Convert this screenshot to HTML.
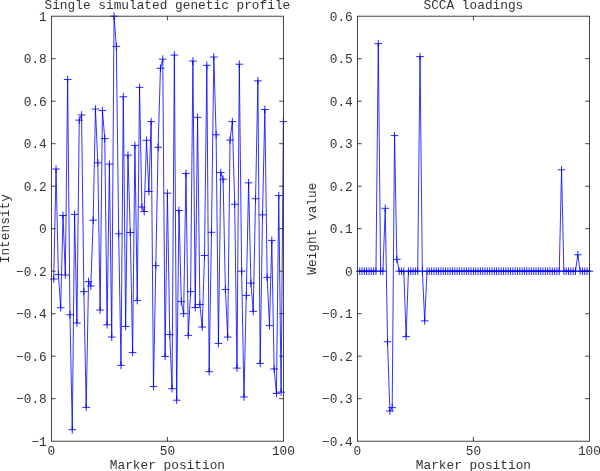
<!DOCTYPE html>
<html><head><meta charset="utf-8"><title>SCCA plots</title>
<style>
html,body{margin:0;padding:0;background:#fff;}
svg{display:block;}
svg text{font-family:"Liberation Mono","DejaVu Sans Mono",monospace;font-size:12.8px;fill:#333;}
</style></head><body>
<svg width="600" height="471" viewBox="0 0 600 471">
<rect width="600" height="471" fill="#fff"/>
<polyline points="53.72,279.06 56.04,168.99 58.36,274.60 60.68,307.75 63.00,215.52 65.32,275.02 67.64,79.52 69.96,314.76 72.28,429.72 74.60,214.46 76.92,323.05 79.24,120.11 81.56,115.01 83.88,291.60 86.20,407.41 88.52,281.61 90.84,286.07 93.16,220.20 95.48,109.06 97.80,162.82 100.12,310.09 102.44,110.55 104.76,138.60 107.08,324.75 109.40,164.10 111.72,337.07 114.04,16.20 116.36,46.37 118.68,233.80 121.00,365.34 123.32,96.74 125.64,326.45 127.96,155.17 130.28,232.53 132.60,352.59 134.92,145.40 137.24,300.52 139.56,87.39 141.88,207.02 144.20,211.49 146.52,140.30 148.84,191.51 151.16,121.60 153.48,386.59 155.80,265.67 158.12,147.31 160.44,68.26 162.76,59.12 165.08,356.41 167.40,193.21 169.72,334.52 172.04,388.71 174.36,55.09 176.68,400.19 179.00,210.42 181.32,301.59 183.64,313.70 185.96,173.45 188.28,335.38 190.60,291.60 192.92,61.04 195.24,307.54 197.56,117.35 199.88,304.56 202.20,327.09 204.52,255.47 206.84,65.29 209.16,371.71 211.48,232.31 213.80,57.00 216.12,134.77 218.44,343.45 220.76,172.60 223.08,179.19 225.40,289.48 227.72,337.07 230.04,140.09 232.36,121.60 234.68,204.26 237.00,368.10 239.32,64.22 241.64,271.20 243.96,397.00 246.28,295.43 248.60,182.80 250.92,283.10 253.24,311.36 255.56,198.74 257.88,80.80 260.20,363.43 262.52,214.89 264.84,109.49 267.16,277.36 269.48,325.60 271.80,240.39 274.12,368.95 276.44,393.39 278.76,195.55 281.08,392.11 283.40,121.60" fill="none" stroke="#0000ff" stroke-width="0.8" stroke-linejoin="round"/>
<path d="M49.92 279.06H57.52M53.72 275.26V282.86M52.24 168.99H59.84M56.04 165.19V172.79M54.56 274.60H62.16M58.36 270.80V278.40M56.88 307.75H64.48M60.68 303.95V311.55M59.20 215.52H66.80M63.00 211.72V219.32M61.52 275.02H69.12M65.32 271.22V278.82M63.84 79.52H71.44M67.64 75.72V83.32M66.16 314.76H73.76M69.96 310.96V318.56M68.48 429.72H76.08M72.28 425.92V433.52M70.80 214.46H78.40M74.60 210.66V218.26M73.12 323.05H80.72M76.92 319.25V326.85M75.44 120.11H83.04M79.24 116.31V123.91M77.76 115.01H85.36M81.56 111.21V118.81M80.08 291.60H87.68M83.88 287.80V295.40M82.40 407.41H90.00M86.20 403.61V411.21M84.72 281.61H92.32M88.52 277.81V285.41M87.04 286.07H94.64M90.84 282.27V289.88M89.36 220.20H96.96M93.16 216.40V224.00M91.68 109.06H99.28M95.48 105.26V112.86M94.00 162.82H101.60M97.80 159.02V166.62M96.32 310.09H103.92M100.12 306.29V313.89M98.64 110.55H106.24M102.44 106.75V114.35M100.96 138.60H108.56M104.76 134.80V142.40M103.28 324.75H110.88M107.08 320.95V328.55M105.60 164.10H113.20M109.40 160.30V167.90M107.92 337.07H115.52M111.72 333.27V340.88M110.24 16.20H117.84M114.04 12.40V20.00M112.56 46.37H120.16M116.36 42.57V50.17M114.88 233.80H122.48M118.68 230.00V237.60M117.20 365.34H124.80M121.00 361.54V369.14M119.52 96.74H127.12M123.32 92.94V100.54M121.84 326.45H129.44M125.64 322.65V330.25M124.16 155.17H131.76M127.96 151.37V158.97M126.48 232.53H134.08M130.28 228.72V236.33M128.80 352.59H136.40M132.60 348.79V356.39M131.12 145.40H138.72M134.92 141.60V149.20M133.44 300.52H141.04M137.24 296.72V304.32M135.76 87.39H143.36M139.56 83.59V91.19M138.08 207.02H145.68M141.88 203.22V210.82M140.40 211.49H148.00M144.20 207.69V215.29M142.72 140.30H150.32M146.52 136.50V144.10M145.04 191.51H152.64M148.84 187.71V195.31M147.36 121.60H154.96M151.16 117.80V125.40M149.68 386.59H157.28M153.48 382.79V390.39M152.00 265.67H159.60M155.80 261.87V269.47M154.32 147.31H161.92M158.12 143.51V151.11M156.64 68.26H164.24M160.44 64.46V72.06M158.96 59.12H166.56M162.76 55.33V62.92M161.28 356.41H168.88M165.08 352.61V360.21M163.60 193.21H171.20M167.40 189.41V197.01M165.92 334.52H173.52M169.72 330.72V338.32M168.24 388.71H175.84M172.04 384.91V392.51M170.56 55.09H178.16M174.36 51.29V58.89M172.88 400.19H180.48M176.68 396.39V403.99M175.20 210.42H182.80M179.00 206.62V214.22M177.52 301.59H185.12M181.32 297.79V305.39M179.84 313.70H187.44M183.64 309.90V317.50M182.16 173.45H189.76M185.96 169.65V177.25M184.48 335.38H192.08M188.28 331.57V339.18M186.80 291.60H194.40M190.60 287.80V295.40M189.12 61.04H196.72M192.92 57.24V64.84M191.44 307.54H199.04M195.24 303.74V311.34M193.76 117.35H201.36M197.56 113.55V121.15M196.08 304.56H203.68M199.88 300.76V308.36M198.40 327.09H206.00M202.20 323.29V330.89M200.72 255.47H208.32M204.52 251.67V259.27M203.04 65.29H210.64M206.84 61.49V69.09M205.36 371.71H212.96M209.16 367.91V375.51M207.68 232.31H215.28M211.48 228.51V236.11M210.00 57.00H217.60M213.80 53.20V60.80M212.32 134.77H219.92M216.12 130.97V138.57M214.64 343.45H222.24M218.44 339.65V347.25M216.96 172.60H224.56M220.76 168.80V176.40M219.28 179.19H226.88M223.08 175.39V182.99M221.60 289.48H229.20M225.40 285.68V293.28M223.92 337.07H231.52M227.72 333.27V340.88M226.24 140.09H233.84M230.04 136.29V143.89M228.56 121.60H236.16M232.36 117.80V125.40M230.88 204.26H238.48M234.68 200.46V208.06M233.20 368.10H240.80M237.00 364.30V371.90M235.52 64.22H243.12M239.32 60.42V68.02M237.84 271.20H245.44M241.64 267.40V275.00M240.16 397.00H247.76M243.96 393.20V400.80M242.48 295.43H250.08M246.28 291.62V299.23M244.80 182.80H252.40M248.60 179.00V186.60M247.12 283.10H254.72M250.92 279.30V286.90M249.44 311.36H257.04M253.24 307.56V315.16M251.76 198.74H259.36M255.56 194.94V202.54M254.08 80.80H261.68M257.88 77.00V84.60M256.40 363.43H264.00M260.20 359.62V367.23M258.72 214.89H266.32M262.52 211.09V218.69M261.04 109.49H268.64M264.84 105.69V113.29M263.36 277.36H270.96M267.16 273.56V281.16M265.68 325.60H273.28M269.48 321.80V329.40M268.00 240.39H275.60M271.80 236.59V244.19M270.32 368.95H277.92M274.12 365.15V372.75M272.64 393.39H280.24M276.44 389.59V397.19M274.96 195.55H282.56M278.76 191.75V199.35M277.28 392.11H284.88M281.08 388.31V395.91M279.60 121.60H287.20M283.40 117.80V125.40" fill="none" stroke="#0000ff" stroke-width="0.85"/>
<rect x="51.40" y="16.20" width="232.00" height="425.00" fill="none" stroke="#222" stroke-width="0.85"/>
<text x="51.40" y="455.40" text-anchor="middle">0</text>
<text x="167.40" y="455.40" text-anchor="middle">50</text>
<text x="283.40" y="455.40" text-anchor="middle">100</text>
<text x="46.80" y="445.70" text-anchor="end">−1</text>
<text x="46.80" y="403.20" text-anchor="end">−0.8</text>
<text x="46.80" y="360.70" text-anchor="end">−0.6</text>
<text x="46.80" y="318.20" text-anchor="end">−0.4</text>
<text x="46.80" y="275.70" text-anchor="end">−0.2</text>
<text x="46.80" y="233.20" text-anchor="end">0</text>
<text x="46.80" y="190.70" text-anchor="end">0.2</text>
<text x="46.80" y="148.20" text-anchor="end">0.4</text>
<text x="46.80" y="105.70" text-anchor="end">0.6</text>
<text x="46.80" y="63.20" text-anchor="end">0.8</text>
<text x="46.80" y="20.70" text-anchor="end">1</text>
<path d="M167.40 441.20V436.95M167.40 16.20V20.45M51.40 398.70H55.65M283.40 398.70H279.15M51.40 356.20H55.65M283.40 356.20H279.15M51.40 313.70H55.65M283.40 313.70H279.15M51.40 271.20H55.65M283.40 271.20H279.15M51.40 228.70H55.65M283.40 228.70H279.15M51.40 186.20H55.65M283.40 186.20H279.15M51.40 143.70H55.65M283.40 143.70H279.15M51.40 101.20H55.65M283.40 101.20H279.15M51.40 58.70H55.65M283.40 58.70H279.15" fill="none" stroke="#222" stroke-width="0.85"/>
<text x="167.40" y="8.50" text-anchor="middle">Single simulated genetic profile</text>
<text x="167.40" y="468.50" text-anchor="middle">Marker position</text>
<text transform="translate(9.20 228.70) rotate(-90)" text-anchor="middle">Intensity</text>
<polyline points="359.72,271.20 362.04,271.20 364.36,271.20 366.68,271.20 369.00,271.20 371.32,271.20 373.64,271.20 375.96,271.20 378.28,43.61 380.60,271.20 382.92,271.20 385.24,208.30 387.56,341.75 389.88,411.02 392.20,407.62 394.52,135.62 396.84,259.30 399.16,271.20 401.48,271.20 403.80,271.20 406.12,336.65 408.44,271.20 410.76,271.20 413.08,271.20 415.40,271.20 417.72,271.20 420.04,56.57 422.36,271.20 424.68,320.92 427.00,271.20 429.32,271.20 431.64,271.20 433.96,271.20 436.28,271.20 438.60,271.20 440.92,271.20 443.24,271.20 445.56,271.20 447.88,271.20 450.20,271.20 452.52,271.20 454.84,271.20 457.16,271.20 459.48,271.20 461.80,271.20 464.12,271.20 466.44,271.20 468.76,271.20 471.08,271.20 473.40,271.20 475.72,271.20 478.04,271.20 480.36,271.20 482.68,271.20 485.00,271.20 487.32,271.20 489.64,271.20 491.96,271.20 494.28,271.20 496.60,271.20 498.92,271.20 501.24,271.20 503.56,271.20 505.88,271.20 508.20,271.20 510.52,271.20 512.84,271.20 515.16,271.20 517.48,271.20 519.80,271.20 522.12,271.20 524.44,271.20 526.76,271.20 529.08,271.20 531.40,271.20 533.72,271.20 536.04,271.20 538.36,271.20 540.68,271.20 543.00,271.20 545.32,271.20 547.64,271.20 549.96,271.20 552.28,271.20 554.60,271.20 556.92,271.20 559.24,271.20 561.56,169.79 563.88,271.20 566.20,271.20 568.52,271.20 570.84,271.20 573.16,271.20 575.48,271.20 577.80,254.79 580.12,271.20 582.44,271.20 584.76,271.20 587.08,271.20 589.40,271.20" fill="none" stroke="#0000ff" stroke-width="0.8" stroke-linejoin="round"/>
<path d="M355.92 271.20H363.52M359.72 267.40V275.00M358.24 271.20H365.84M362.04 267.40V275.00M360.56 271.20H368.16M364.36 267.40V275.00M362.88 271.20H370.48M366.68 267.40V275.00M365.20 271.20H372.80M369.00 267.40V275.00M367.52 271.20H375.12M371.32 267.40V275.00M369.84 271.20H377.44M373.64 267.40V275.00M372.16 271.20H379.76M375.96 267.40V275.00M374.48 43.61H382.08M378.28 39.81V47.41M376.80 271.20H384.40M380.60 267.40V275.00M379.12 271.20H386.72M382.92 267.40V275.00M381.44 208.30H389.04M385.24 204.50V212.10M383.76 341.75H391.36M387.56 337.95V345.55M386.08 411.02H393.68M389.88 407.22V414.82M388.40 407.62H396.00M392.20 403.82V411.43M390.72 135.62H398.32M394.52 131.82V139.42M393.04 259.30H400.64M396.84 255.50V263.10M395.36 271.20H402.96M399.16 267.40V275.00M397.68 271.20H405.28M401.48 267.40V275.00M400.00 271.20H407.60M403.80 267.40V275.00M402.32 336.65H409.92M406.12 332.85V340.45M404.64 271.20H412.24M408.44 267.40V275.00M406.96 271.20H414.56M410.76 267.40V275.00M409.28 271.20H416.88M413.08 267.40V275.00M411.60 271.20H419.20M415.40 267.40V275.00M413.92 271.20H421.52M417.72 267.40V275.00M416.24 56.57H423.84M420.04 52.77V60.37M418.56 271.20H426.16M422.36 267.40V275.00M420.88 320.92H428.48M424.68 317.12V324.72M423.20 271.20H430.80M427.00 267.40V275.00M425.52 271.20H433.12M429.32 267.40V275.00M427.84 271.20H435.44M431.64 267.40V275.00M430.16 271.20H437.76M433.96 267.40V275.00M432.48 271.20H440.08M436.28 267.40V275.00M434.80 271.20H442.40M438.60 267.40V275.00M437.12 271.20H444.72M440.92 267.40V275.00M439.44 271.20H447.04M443.24 267.40V275.00M441.76 271.20H449.36M445.56 267.40V275.00M444.08 271.20H451.68M447.88 267.40V275.00M446.40 271.20H454.00M450.20 267.40V275.00M448.72 271.20H456.32M452.52 267.40V275.00M451.04 271.20H458.64M454.84 267.40V275.00M453.36 271.20H460.96M457.16 267.40V275.00M455.68 271.20H463.28M459.48 267.40V275.00M458.00 271.20H465.60M461.80 267.40V275.00M460.32 271.20H467.92M464.12 267.40V275.00M462.64 271.20H470.24M466.44 267.40V275.00M464.96 271.20H472.56M468.76 267.40V275.00M467.28 271.20H474.88M471.08 267.40V275.00M469.60 271.20H477.20M473.40 267.40V275.00M471.92 271.20H479.52M475.72 267.40V275.00M474.24 271.20H481.84M478.04 267.40V275.00M476.56 271.20H484.16M480.36 267.40V275.00M478.88 271.20H486.48M482.68 267.40V275.00M481.20 271.20H488.80M485.00 267.40V275.00M483.52 271.20H491.12M487.32 267.40V275.00M485.84 271.20H493.44M489.64 267.40V275.00M488.16 271.20H495.76M491.96 267.40V275.00M490.48 271.20H498.08M494.28 267.40V275.00M492.80 271.20H500.40M496.60 267.40V275.00M495.12 271.20H502.72M498.92 267.40V275.00M497.44 271.20H505.04M501.24 267.40V275.00M499.76 271.20H507.36M503.56 267.40V275.00M502.08 271.20H509.68M505.88 267.40V275.00M504.40 271.20H512.00M508.20 267.40V275.00M506.72 271.20H514.32M510.52 267.40V275.00M509.04 271.20H516.64M512.84 267.40V275.00M511.36 271.20H518.96M515.16 267.40V275.00M513.68 271.20H521.28M517.48 267.40V275.00M516.00 271.20H523.60M519.80 267.40V275.00M518.32 271.20H525.92M522.12 267.40V275.00M520.64 271.20H528.24M524.44 267.40V275.00M522.96 271.20H530.56M526.76 267.40V275.00M525.28 271.20H532.88M529.08 267.40V275.00M527.60 271.20H535.20M531.40 267.40V275.00M529.92 271.20H537.52M533.72 267.40V275.00M532.24 271.20H539.84M536.04 267.40V275.00M534.56 271.20H542.16M538.36 267.40V275.00M536.88 271.20H544.48M540.68 267.40V275.00M539.20 271.20H546.80M543.00 267.40V275.00M541.52 271.20H549.12M545.32 267.40V275.00M543.84 271.20H551.44M547.64 267.40V275.00M546.16 271.20H553.76M549.96 267.40V275.00M548.48 271.20H556.08M552.28 267.40V275.00M550.80 271.20H558.40M554.60 267.40V275.00M553.12 271.20H560.72M556.92 267.40V275.00M555.44 271.20H563.04M559.24 267.40V275.00M557.76 169.79H565.36M561.56 165.99V173.59M560.08 271.20H567.68M563.88 267.40V275.00M562.40 271.20H570.00M566.20 267.40V275.00M564.72 271.20H572.32M568.52 267.40V275.00M567.04 271.20H574.64M570.84 267.40V275.00M569.36 271.20H576.96M573.16 267.40V275.00M571.68 271.20H579.28M575.48 267.40V275.00M574.00 254.79H581.60M577.80 250.99V258.59M576.32 271.20H583.92M580.12 267.40V275.00M578.64 271.20H586.24M582.44 267.40V275.00M580.96 271.20H588.56M584.76 267.40V275.00M583.28 271.20H590.88M587.08 267.40V275.00M585.60 271.20H593.20M589.40 267.40V275.00" fill="none" stroke="#0000ff" stroke-width="0.85"/>
<rect x="357.40" y="16.20" width="232.00" height="425.00" fill="none" stroke="#222" stroke-width="0.85"/>
<text x="357.40" y="455.40" text-anchor="middle">0</text>
<text x="473.40" y="455.40" text-anchor="middle">50</text>
<text x="589.40" y="455.40" text-anchor="middle">100</text>
<text x="352.80" y="445.70" text-anchor="end">−0.4</text>
<text x="352.80" y="403.20" text-anchor="end">−0.3</text>
<text x="352.80" y="360.70" text-anchor="end">−0.2</text>
<text x="352.80" y="318.20" text-anchor="end">−0.1</text>
<text x="352.80" y="275.70" text-anchor="end">0</text>
<text x="352.80" y="233.20" text-anchor="end">0.1</text>
<text x="352.80" y="190.70" text-anchor="end">0.2</text>
<text x="352.80" y="148.20" text-anchor="end">0.3</text>
<text x="352.80" y="105.70" text-anchor="end">0.4</text>
<text x="352.80" y="63.20" text-anchor="end">0.5</text>
<text x="352.80" y="20.70" text-anchor="end">0.6</text>
<path d="M473.40 441.20V436.95M473.40 16.20V20.45M357.40 398.70H361.65M589.40 398.70H585.15M357.40 356.20H361.65M589.40 356.20H585.15M357.40 313.70H361.65M589.40 313.70H585.15M357.40 271.20H361.65M589.40 271.20H585.15M357.40 228.70H361.65M589.40 228.70H585.15M357.40 186.20H361.65M589.40 186.20H585.15M357.40 143.70H361.65M589.40 143.70H585.15M357.40 101.20H361.65M589.40 101.20H585.15M357.40 58.70H361.65M589.40 58.70H585.15" fill="none" stroke="#222" stroke-width="0.85"/>
<text x="473.40" y="8.50" text-anchor="middle">SCCA loadings</text>
<text x="473.40" y="468.50" text-anchor="middle">Marker position</text>
<text transform="translate(315.70 228.70) rotate(-90)" text-anchor="middle">Weight value</text>
</svg>
</body></html>
